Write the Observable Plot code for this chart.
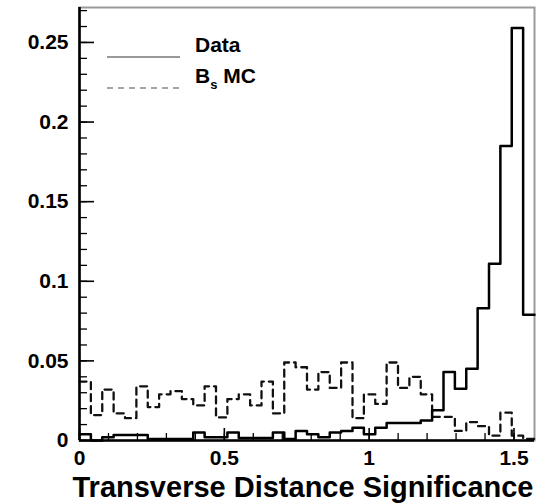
<!DOCTYPE html>
<html>
<head>
<meta charset="utf-8">
<script src="https://cdn.jsdelivr.net/npm/d3@7"></script>
<script src="https://cdn.jsdelivr.net/npm/@observablehq/plot@0.6"></script>
<style>
  html, body { margin: 0; padding: 0; background: #fff; }
  #chart { width: 549px; height: 503px; }
</style>
</head>
<body>
<div id="chart"></div>
<script>
// Histogram binning: 40 bins over [0, pi/2]
const binLow = 0;
const binHigh = Math.PI / 2;

// Normalised bin contents, data (solid)
const dataVals = [
  0.004, 0.000, 0.002, 0.0035, 0.0035, 0.0035, 0.001, 0.001, 0.001, 0.001,
  0.005, 0.002, 0.002, 0.005, 0.0015, 0.0015, 0.0015, 0.005, 0.001, 0.006,
  0.004, 0.002, 0.005, 0.006, 0.008, 0.004, 0.008, 0.011, 0.011, 0.011,
  0.0125, 0.019, 0.043, 0.0325, 0.045, 0.083, 0.111, 0.185, 0.259, 0.079
];

// Normalised bin contents, B_s Monte Carlo (dashed)
const mcVals = [
  0.037, 0.016, 0.032, 0.017, 0.014, 0.034, 0.021, 0.029, 0.031, 0.026,
  0.022, 0.034, 0.0145, 0.026, 0.029, 0.022, 0.037, 0.017, 0.049, 0.046,
  0.032, 0.043, 0.033, 0.049, 0.014, 0.029, 0.023, 0.049, 0.033, 0.040,
  0.029, 0.0148, 0.0148, 0.006, 0.0115, 0.009, 0.003, 0.0175, 0.003, 0.001
];

// Axis ticks and labels
const xMajor = [0, 0.5, 1, 1.5];
const xMinor = d3.range(0, 1.55, 0.1);
const yMajor = [0, 0.05, 0.1, 0.15, 0.2, 0.25];
const yMinor = d3.range(0, 0.2705, 0.01);
const xTitle = "Transverse Distance Significance";
const legendData = "Data";
const legendMC = ["B", "s", " MC"];

const font = "Liberation Sans, Arial, Helvetica, sans-serif";

// Outline of a histogram: one point per bin low edge, plus the upper edge
function outline(vals) {
  const w = (binHigh - binLow) / vals.length;
  const pts = vals.map((v, i) => ({x: binLow + i * w, y: v}));
  pts.push({x: binHigh, y: vals[vals.length - 1]});
  return pts;
}

const W = 549, H = 503;
const mL = 79, mR = 15, mT = 7, mB = 63;
const innerW = W - mL - mR, innerH = H - mT - mB;
const yTop = 1.05 * d3.max(dataVals);
const fmt = d => (d === 0 ? "0" : String(+d.toFixed(2)));

const chart = Plot.plot({
  width: W,
  height: H,
  marginLeft: mL,
  marginRight: mR,
  marginTop: mT,
  marginBottom: mB,
  style: {fontFamily: font, background: "#fff", color: "#000"},
  x: {domain: [binLow, binHigh]},
  y: {domain: [0, yTop]},
  marks: [
    Plot.frame({stroke: "#9a9a9a", strokeWidth: 2}),
    Plot.line(outline(mcVals), {x: "x", y: "y", curve: "step-after", stroke: "#111", strokeWidth: 2.3, strokeDasharray: "7,5"}),
    Plot.line(outline(dataVals), {x: "x", y: "y", curve: "step-after", stroke: "#000", strokeWidth: 2.5}),
    // inward ticks
    Plot.tickY(yMajor, {insetRight: innerW - 15, stroke: "#000", strokeWidth: 1.6}),
    Plot.tickY(yMinor, {insetRight: innerW - 8, stroke: "#000", strokeWidth: 1.3}),
    Plot.tickX(xMajor, {insetTop: innerH - 12, stroke: "#000", strokeWidth: 1.6}),
    Plot.tickX(xMinor, {insetTop: innerH - 7, stroke: "#000", strokeWidth: 1.3}),
    Plot.ruleX([binLow], {stroke: "#000", strokeWidth: 2.6}),
    Plot.ruleY([0], {stroke: "#000", strokeWidth: 2.6}),
    Plot.axisY({ticks: yMajor, tickSize: 0, tickPadding: 11, tickFormat: fmt, label: null, fontSize: 21, fontWeight: "bold"}),
    Plot.axisX({ticks: xMajor, tickSize: 0, tickPadding: 10, tickFormat: fmt, label: null, fontSize: 21, fontWeight: "bold"}),
    Plot.text([xTitle], {text: d => d, frameAnchor: "bottom-right", dx: -1, dy: 56, lineAnchor: "bottom", textAnchor: "end", fontSize: 29, fontWeight: "bold", fill: "#000"})
  ]
});

document.getElementById("chart").appendChild(chart);

// Legend inside the frame, top left
const svg = d3.select(chart);
const lg = svg.append("g")
  .attr("font-family", font)
  .attr("font-weight", "bold")
  .attr("font-size", 21)
  .attr("text-anchor", "start");
lg.append("line").attr("x1", 107).attr("x2", 180).attr("y1", 57).attr("y2", 57)
  .attr("stroke", "#777").attr("stroke-width", 1.3);
lg.append("text").attr("x", 195).attr("y", 52).text(legendData);
lg.append("line").attr("x1", 107).attr("x2", 180).attr("y1", 88).attr("y2", 88)
  .attr("stroke", "#888").attr("stroke-width", 1.6).attr("stroke-dasharray", "6,5");
const t2 = lg.append("text").attr("x", 195).attr("y", 83);
t2.append("tspan").text(legendMC[0]);
t2.append("tspan").attr("font-size", 13).attr("dy", 6).text(legendMC[1]);
t2.append("tspan").attr("dy", -6).text(legendMC[2]);
</script>
</body>
</html>
